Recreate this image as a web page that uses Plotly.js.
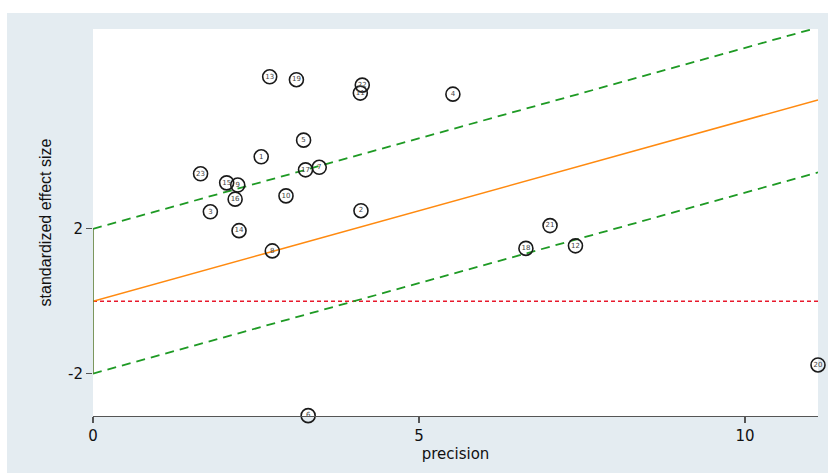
<!DOCTYPE html>
<html>
<head>
<meta charset="utf-8">
<script src="https://cdn.plot.ly/plotly-3.0.1.min.js"></script>
<style>
  html, body { margin: 0; padding: 0; background: #ffffff; }
  #chart { position: absolute; left: 7px; top: 13px; width: 821px; height: 460px; }
</style>
</head>
<body>
<div id="chart"></div>
<script>
// Study labels, precision (1/SE) and standardized effect (z)
var studyLabels = ["1","2","3","4","5","6","7","8","9","10","11","12","13","14","15","16","17","18","19","20","21","22","23"];
var precision   = [2.58, 4.11, 1.80, 5.52, 3.23, 3.30, 3.47, 2.75, 2.22, 2.96, 4.10, 7.40, 2.71, 2.24, 2.05, 2.18, 3.26, 6.64, 3.12, 11.12, 7.01, 4.13, 1.65];
var effectZ     = [3.99, 2.50, 2.47, 5.72, 4.45, -3.16, 3.70, 1.39, 3.21, 2.91, 5.75, 1.53, 6.20, 1.95, 3.27, 2.82, 3.63, 1.46, 6.12, -1.76, 2.09, 5.97, 3.52];

var slope = 0.5;        // fitted line through origin
var band = 2;           // +/- 2 limits
var xMax = 11.12;
var lineX = [0, xMax];

var fitY = lineX.map(function (v) { return slope * v; });
var upY = lineX.map(function (v) { return band + slope * v; });
var loY = lineX.map(function (v) { return -band + slope * v; });

var traces = [
  { x: lineX, y: [0, 0], mode: 'lines', line: { color: '#e8192c', width: 1.5, dash: '4px,3px' }, hoverinfo: 'skip' },
  { x: lineX, y: fitY, mode: 'lines', line: { color: '#ff8a10', width: 1.6 }, hoverinfo: 'skip' },
  { x: lineX, y: upY, mode: 'lines', line: { color: '#1e9a24', width: 1.8, dash: '9px,6px' }, hoverinfo: 'skip' },
  { x: lineX, y: loY, mode: 'lines', line: { color: '#1e9a24', width: 1.8, dash: '9px,6px' }, hoverinfo: 'skip' },
  { x: [0, 0], y: [-band, band], mode: 'lines', line: { color: '#5b7d35', width: 1.6 }, hoverinfo: 'skip' },
  {
    x: precision, y: effectZ, text: studyLabels,
    mode: 'markers+text', textposition: 'middle center',
    textfont: { family: 'DejaVu Sans, sans-serif', size: 7, color: '#444444' },
    marker: { symbol: 'circle-open', size: 14, color: '#1a1a1a', line: { width: 1.6, color: '#1a1a1a' } },
    cliponaxis: false
  }
];

var layout = {
  width: 821, height: 460,
  margin: { l: 86, r: 10, t: 16, b: 57 },
  paper_bgcolor: '#e4ecf1',
  plot_bgcolor: '#ffffff',
  showlegend: false,
  font: { family: 'DejaVu Sans, sans-serif', color: '#111111' },
  xaxis: {
    range: [0, xMax], tickvals: [0, 5, 10], ticktext: ['0', '5', '10'],
    showline: true, linecolor: '#555555', linewidth: 1.2,
    ticks: 'outside', ticklen: 6, tickcolor: '#555555', tickwidth: 1.2,
    showgrid: false, zeroline: false,
    tickfont: { size: 15 },
    title: { text: 'precision', font: { size: 15 }, standoff: 3 }
  },
  yaxis: {
    range: [-3.17, 7.52], tickvals: [-2, 2], ticktext: ['-2', '2'],
    showline: false, ticks: 'outside', ticklen: 6, tickcolor: '#555555', tickwidth: 1.2,
    showgrid: false, zeroline: false,
    tickfont: { size: 15 },
    title: { text: 'standardized effect size', font: { family: 'Liberation Sans, Arial, sans-serif', size: 16 }, standoff: 12 }
  }
};

Plotly.newPlot('chart', traces, layout, { displayModeBar: false, staticPlot: true });
</script>
</body>
</html>
